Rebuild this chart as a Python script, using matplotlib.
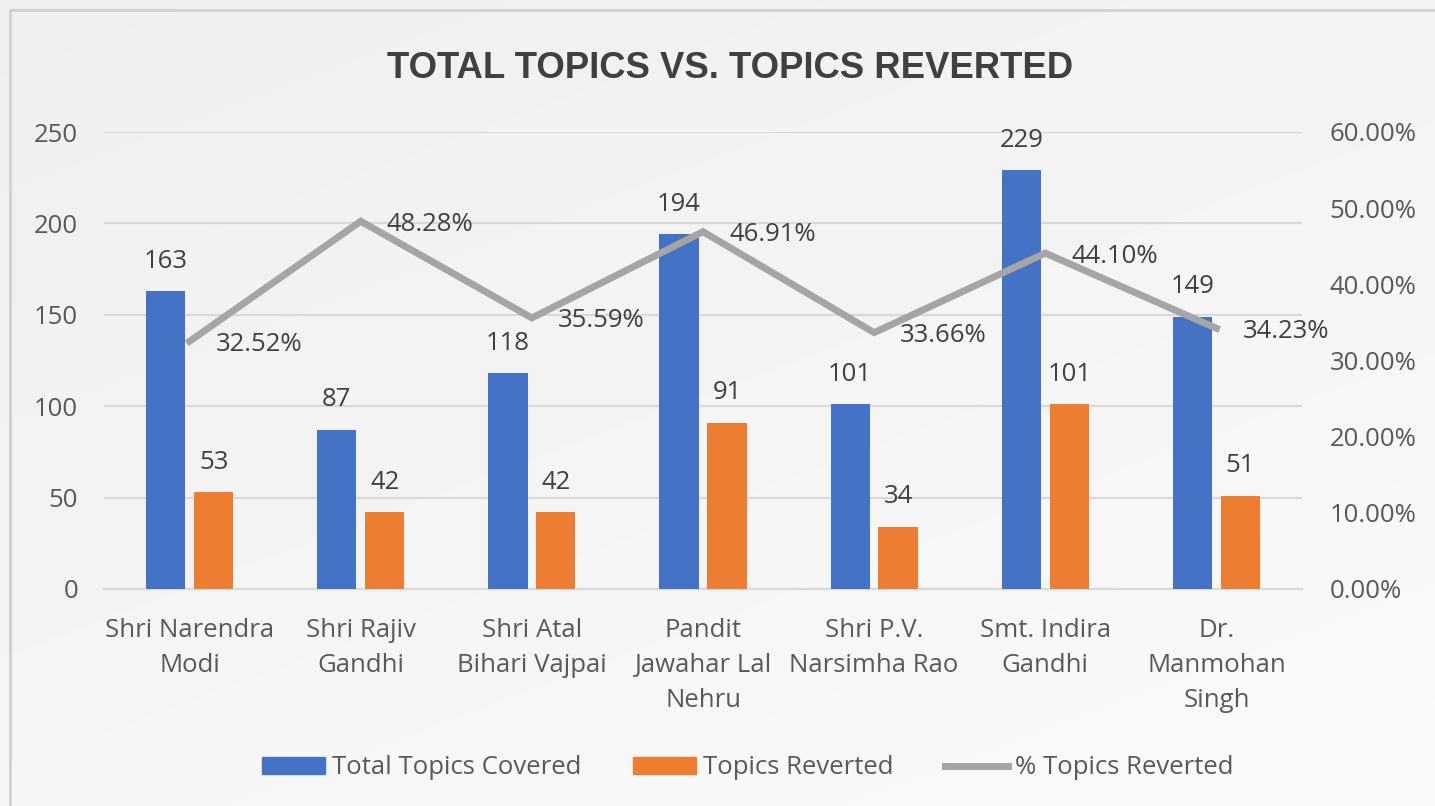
import matplotlib.pyplot as plt
import numpy as np
from matplotlib.patches import Patch, Rectangle
from matplotlib.lines import Line2D

# dados
categorias = ["Shri Narendra\nModi", "Shri Rajiv\nGandhi", "Shri Atal\nBihari Vajpai",
              "Pandit\nJawahar Lal\nNehru", "Shri P.V.\nNarsimha Rao", "Smt. Indira\nGandhi",
              "Dr.\nManmohan\nSingh"]
total_topics = [163, 87, 118, 194, 101, 229, 149]
topics_reverted = [53, 42, 42, 91, 34, 101, 51]
pct_reverted = [32.52, 48.28, 35.59, 46.91, 33.66, 44.10, 34.23]

azul = '#4472c4'
laranja = '#ed7d31'
cinza = '#a5a5a5'
texto = '#595959'
fs = 18.5

plt.rcParams['font.family'] = ['Open Sans', 'DejaVu Sans']

fig = plt.figure(figsize=(14.35, 8.06), dpi=100)

# fundo com leve gradiente
bg = fig.add_axes([0, 0, 1, 1], zorder=-10)
gx, gy = np.meshgrid(np.linspace(0, 1, 200), np.linspace(0, 1, 200))
grad = 0.935 + 0.045 * (0.6 * gy + 0.4 * gx)
bg.imshow(grad, cmap='gray', vmin=0, vmax=1, aspect='auto', extent=[0, 1, 0, 1], origin='upper')
bg.set_axis_off()
fig.patches.append(Rectangle((10 / 1435, -0.02), 1.0, 1.02 - 10 / 806, transform=fig.transFigure,
                             fill=False, edgecolor='#d0d0d0', linewidth=2, zorder=-5))

ax = fig.add_axes([104 / 1435, 1 - 589 / 806, 1198 / 1435, 457 / 806])
ax.patch.set_alpha(0)
x = np.arange(len(categorias))
largura = 0.23
desl = 0.14

ax.bar(x - desl, total_topics, largura, color=azul, zorder=3)
ax.bar(x + desl, topics_reverted, largura, color=laranja, zorder=3)

for xi, v in zip(x, total_topics):
    ax.annotate(str(v), (xi - desl, v), xytext=(0, 30), textcoords='offset pixels',
                ha='center', va='center', fontsize=fs, color='#404040', zorder=5)
for xi, v in zip(x, topics_reverted):
    ax.annotate(str(v), (xi + desl, v), xytext=(0, 30), textcoords='offset pixels',
                ha='center', va='center', fontsize=fs, color='#404040', zorder=5)

ax.set_xlim(-0.5, len(categorias) - 0.5)
ax.set_ylim(0, 250)
ax.set_yticks([0, 50, 100, 150, 200, 250])
ax.grid(axis='y', color='#d9d9d9', linewidth=1.6, zorder=0)
ax.set_axisbelow(True)
for s in ['top', 'right', 'left']:
    ax.spines[s].set_visible(False)
ax.spines['bottom'].set_color('#d9d9d9')
ax.spines['bottom'].set_linewidth(1.6)
ax.tick_params(axis='y', length=0, pad=18.5, labelsize=fs, labelcolor=texto)
ax.tick_params(axis='x', length=0, pad=21, labelsize=fs, labelcolor=texto)
ax.set_xticks(x)
ax.set_xticklabels(categorias, linespacing=1.52)

ax2 = ax.twinx()
ax2.set_ylim(0, 0.6)
ax2.set_yticks(np.arange(0, 0.61, 0.1))
ax2.set_yticklabels(['%.2f%%' % (t * 100) for t in np.arange(0, 0.61, 0.1)])
for s in ax2.spines.values():
    s.set_visible(False)
ax2.tick_params(axis='y', length=0, pad=20, labelsize=fs, labelcolor=texto)
pct_frac = [p / 100 for p in pct_reverted]
ax2.plot(x, pct_frac, color=cinza, linewidth=5, solid_joinstyle='miter', zorder=4)
for xi, p in zip(x, pct_reverted):
    ax2.annotate('%.2f%%' % p, (xi, p / 100), xytext=(26, -3), textcoords='offset pixels',
                 ha='left', va='center', fontsize=fs, color='#404040', zorder=5)

fig.text(0.509, 1 - 68 / 806, 'TOTAL TOPICS VS. TOPICS REVERTED', ha='center', va='center',
         fontsize=26.3, fontweight='bold', color='#404040', family=['Liberation Sans', 'DejaVu Sans'])

handles = [Patch(color=azul), Patch(color=laranja), Line2D([], [], color=cinza, linewidth=5)]
labels = ['Total Topics Covered', 'Topics Reverted', '% Topics Reverted']
fig.legend(handles, labels, loc='center', bbox_to_anchor=(0.521, 1 - 768 / 806), ncol=3,
           frameon=False, fontsize=fs, labelcolor=texto, handlelength=2.45, handleheight=0.65,
           handletextpad=0.27, columnspacing=2.0)

fig.savefig('out.png', dpi=100)
